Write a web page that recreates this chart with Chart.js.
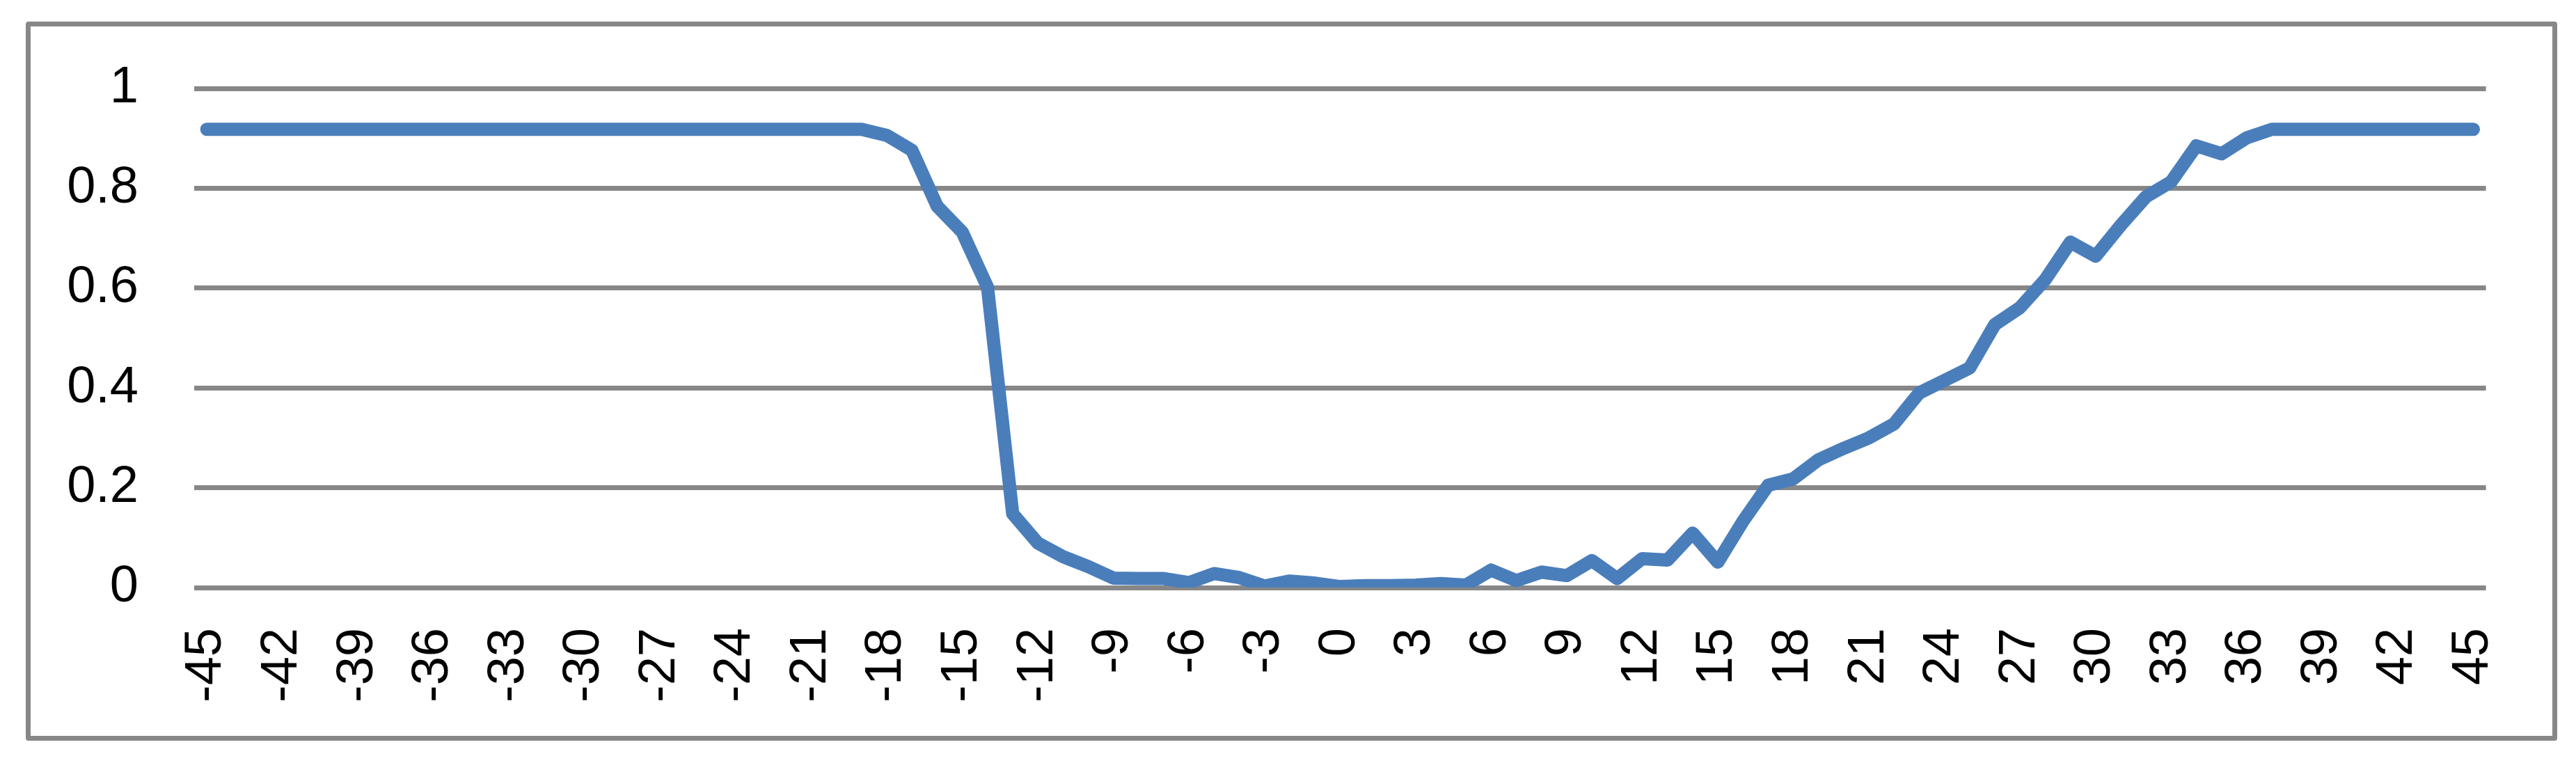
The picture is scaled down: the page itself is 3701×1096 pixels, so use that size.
<!DOCTYPE html>
<html>
<head>
<meta charset="utf-8">
<script src="https://cdn.jsdelivr.net/npm/chart.js@4/dist/chart.umd.min.js"></script>
<style>
  html, body { margin: 0; padding: 0; background: #fff; }
  #wrap { position: relative; width: 3701px; height: 1096px; }
  #frame {
    position: absolute; left: 37px; top: 31px; width: 3637px; height: 1033px;
    box-sizing: border-box; border: 7px solid #878787; border-radius: 4px;
    pointer-events: none;
  }
</style>
</head>
<body>
<div id="wrap">
  <canvas id="chart"></canvas>
  <div id="frame"></div>
</div>
<script>
// x-Kategorien -45 .. 45
const categories = [
  -45, -44, -43, -42, -41, -40, -39, -38, -37, -36, -35, -34, -33, -32, -31, -30,
  -29, -28, -27, -26, -25, -24, -23, -22, -21, -20, -19, -18, -17, -16, -15, -14,
  -13, -12, -11, -10, -9, -8, -7, -6, -5, -4, -3, -2, -1, 0, 1, 2, 3, 4, 5, 6, 7,
  8, 9, 10, 11, 12, 13, 14, 15, 16, 17, 18, 19, 20, 21, 22, 23, 24, 25, 26, 27,
  28, 29, 30, 31, 32, 33, 34, 35, 36, 37, 38, 39, 40, 41, 42, 43, 44, 45
];

const values = [
  0.918, 0.918, 0.918, 0.918, 0.918, 0.918, 0.918, 0.918, 0.918, 0.918,   // -45..-36
  0.918, 0.918, 0.918, 0.918, 0.918, 0.918, 0.918, 0.918, 0.918, 0.918,   // -35..-26
  0.918, 0.918, 0.918, 0.918, 0.918, 0.918, 0.918,                        // -25..-19
  0.906, 0.876, 0.764, 0.712, 0.602, 0.148, 0.089, 0.062, 0.042,         // -18..-10
  0.019, 0.018, 0.018, 0.010, 0.028, 0.020, 0.003, 0.013, 0.009,         // -9..-1
  0.002, 0.004, 0.004, 0.005, 0.008, 0.005, 0.035, 0.014, 0.031, 0.024,  // 0..9
  0.054, 0.018, 0.058, 0.055, 0.109, 0.051, 0.133, 0.205, 0.218, 0.256,  // 10..19
  0.279, 0.300, 0.328, 0.390, 0.415, 0.440, 0.527, 0.561, 0.617, 0.692,  // 20..29
  0.664, 0.726, 0.783, 0.813, 0.885, 0.869, 0.901,                        // 30..36
  0.918, 0.918, 0.918, 0.918, 0.918, 0.918, 0.918, 0.918, 0.918          // 37..45
];

// beschriftete x-Ticks (jeder dritte)
const shownTicks = [
  -45, -42, -39, -36, -33, -30, -27, -24, -21, -18, -15, -12, -9, -6, -3, 0,
  3, 6, 9, 12, 15, 18, 21, 24, 27, 30, 33, 36, 39, 42, 45
];

// y-Achse
const yMin = 0;
const yMax = 1;
const yStep = 0.2;

const gridColor = '#878787';
const labelFont = { family: '"Liberation Sans", Arial, sans-serif', size: 74 };

const ctx = document.getElementById('chart').getContext('2d');
new Chart(ctx, {
  type: 'line',
  data: {
    labels: categories.map(String),
    datasets: [{
      data: values,
      borderColor: '#4a7ebb',
      borderWidth: 19,
      borderCapStyle: 'round',
      borderJoinStyle: 'round',
      pointRadius: 0,
      tension: 0,
      fill: false
    }]
  },
  options: {
    responsive: true,
    maintainAspectRatio: false,
    animation: false,
    devicePixelRatio: 1,
    layout: { padding: { left: 0, top: 127, right: 121, bottom: 0 } },
    plugins: { legend: { display: false }, tooltip: { enabled: false } },
    scales: {
      x: {
        offset: true,
        grid: { display: false, drawTicks: false },
        border: { display: false },
        afterFit: s => { s.height = 252; },
        ticks: {
          autoSkip: false,
          minRotation: 90,
          maxRotation: 90,
          padding: 58,
          color: '#000',
          font: labelFont,
          callback: function (v) {
            const lab = Number(this.getLabelForValue(v));
            return shownTicks.includes(lab) ? String(lab) : '';
          }
        }
      },
      y: {
        min: yMin,
        max: yMax,
        afterFit: s => { s.width = 279; },
        grid: { color: gridColor, lineWidth: 7, drawTicks: false },
        border: { display: false },
        ticks: {
          stepSize: yStep,
          padding: 80,
          color: '#000',
          font: labelFont,
          callback: v => String(Math.round(v * 10) / 10)
        }
      }
    }
  }
});
</script>
</body>
</html>
